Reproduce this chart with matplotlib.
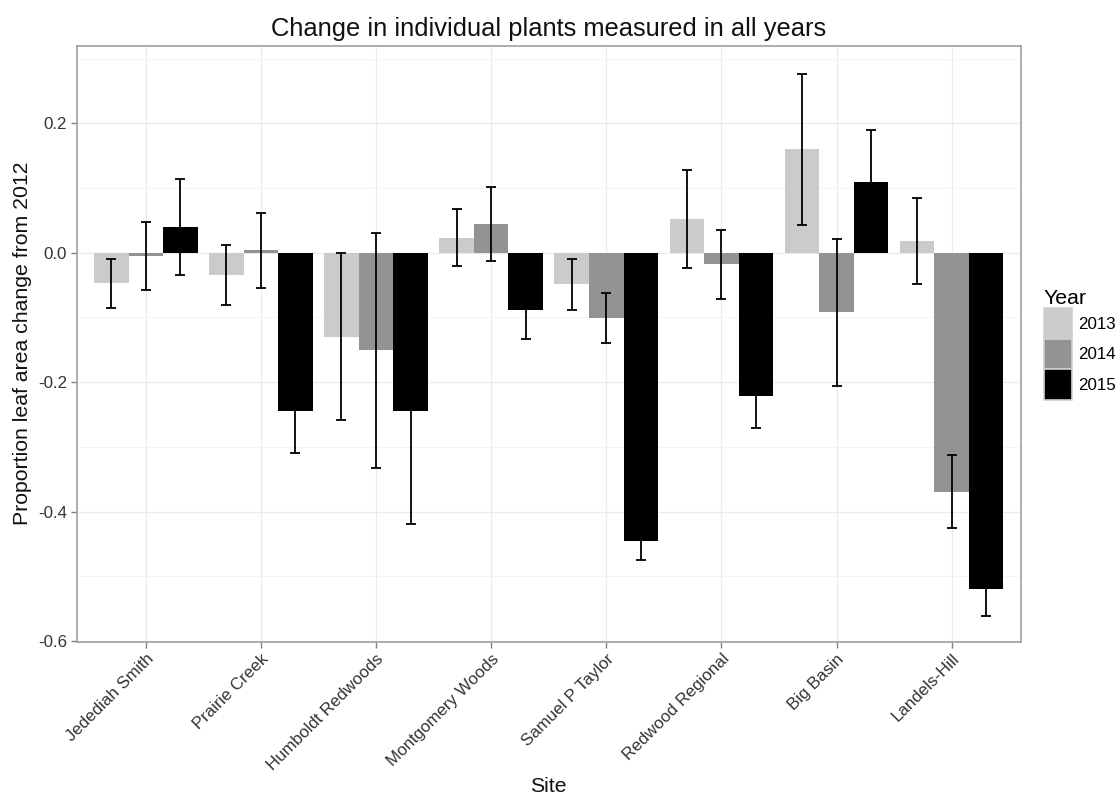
import numpy as np
import matplotlib
matplotlib.use("Agg")
import matplotlib.pyplot as plt
from matplotlib.patches import Patch
from matplotlib.ticker import MultipleLocator

plt.rcParams["font.family"] = ["Liberation Sans", "DejaVu Sans"]

# data
sites = ["Jedediah Smith", "Prairie Creek", "Humboldt Redwoods", "Montgomery Woods",
         "Samuel P Taylor", "Redwood Regional", "Big Basin", "Landels-Hill"]
years = ["2013", "2014", "2015"]

mean_2013 = [-0.047, -0.034, -0.130, 0.023, -0.049, 0.052, 0.160, 0.018]
mean_2014 = [-0.005, 0.004, -0.151, 0.044, -0.101, -0.018, -0.092, -0.369]
mean_2015 = [0.040, -0.244, -0.244, -0.089, -0.446, -0.221, 0.110, -0.520]

se_2013 = [0.038, 0.046, 0.129, 0.044, 0.040, 0.076, 0.117, 0.066]
se_2014 = [0.052, 0.058, 0.181, 0.057, 0.039, 0.053, 0.114, 0.056]
se_2015 = [0.074, 0.066, 0.175, 0.044, 0.029, 0.050, 0.080, 0.042]

means = [mean_2013, mean_2014, mean_2015]
ses = [se_2013, se_2014, se_2015]
colors = ["#cbcbcb", "#939393", "#000000"]

W, H = 1119, 798
fig = plt.figure(figsize=(W / 100, H / 100), dpi=100)
fig.subplots_adjust(left=76.7 / W, right=1020.7 / W, top=1 - 45.7 / H, bottom=1 - 641.7 / H)
ax = fig.add_subplot(111)

x = np.arange(1, len(sites) + 1)
bw = 0.3

# grid first
ax.set_axisbelow(True)
ax.yaxis.set_major_locator(MultipleLocator(0.2))
ax.yaxis.set_minor_locator(MultipleLocator(0.1))
ax.grid(which="major", axis="both", color="#ebebeb", lw=0.9)
ax.grid(which="minor", axis="y", color="#f4f4f4", lw=0.7)

for i in range(3):
    xs = x + (i - 1) * bw
    ax.bar(xs, means[i], width=bw, color=colors[i], zorder=2)
    ax.errorbar(xs, means[i], yerr=ses[i], fmt="none", ecolor="#000000",
                elinewidth=1.3, capsize=3.3, capthick=1.3, zorder=3)

ax.set_xlim(0.4, 8.6)
ax.set_ylim(-0.601, 0.320)
ax.set_yticks([-0.6, -0.4, -0.2, 0.0, 0.2])
ax.set_yticklabels(["-0.6", "-0.4", "-0.2", "0.0", "0.2"])
ax.set_xticks(x)
ax.set_xticklabels(sites, rotation=45, ha="right", va="top", rotation_mode="anchor")

ax.tick_params(which="major", length=4, width=1, color="#7f7f7f",
               labelsize=12.2, labelcolor="#333333", pad=3)
ax.tick_params(which="minor", length=0)
for sp in ax.spines.values():
    sp.set_color("#a0a0a0")
    sp.set_linewidth(1.2)

ax.set_title("Change in individual plants measured in all years", fontsize=18.4,
             color="#111111", pad=7)
ax.set_xlabel("Site", fontsize=15.3, color="#111111", labelpad=3)
ax.set_ylabel("Proportion leaf area change from 2012", fontsize=15.3,
              color="#111111", labelpad=4)

handles = [Patch(facecolor=c, edgecolor="#d0d0d0", lw=1.2) for c in colors]
fs = 12.2 * 100 / 72
leg = fig.legend(handles, years, title="Year", loc="upper left",
                 bbox_to_anchor=(1044 / W, 1 - 289 / H), frameon=False,
                 fontsize=12.2, title_fontsize=15.3, labelspacing=0,
                 handlelength=28 / fs, handleheight=2.4,
                 handletextpad=0.35, borderpad=0, borderaxespad=0,
                 alignment="left")

fig.savefig("out.png", dpi=100)
